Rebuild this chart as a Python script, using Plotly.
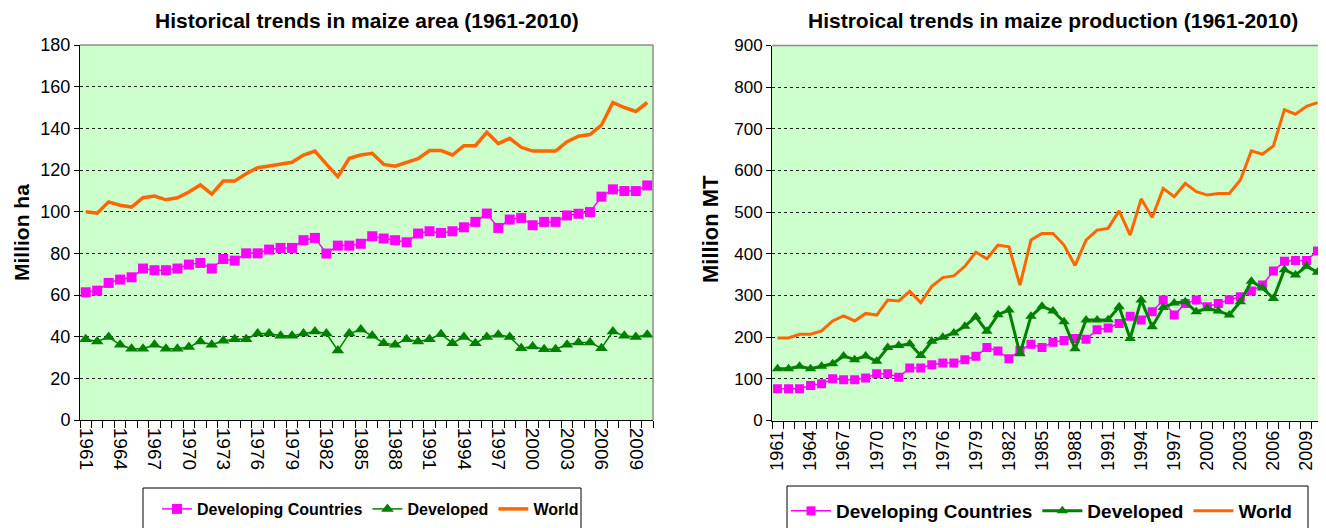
import plotly.graph_objects as go

# ---------------- data ----------------
years = list(range(1961, 2011))

area_developing = [61.3, 62.1, 65.8, 67.4, 68.5, 72.7, 71.9, 71.9, 72.7, 74.6,
                   75.4, 72.7, 77.3, 76.5, 80.0, 80.0, 81.8, 82.6, 82.6, 86.3,
                   87.4, 79.9, 83.7, 83.7, 84.6, 88.2, 87.1, 86.3, 85.3, 89.5,
                   90.6, 89.8, 90.6, 92.5, 95.1, 99.1, 92.2, 96.2, 97.0, 93.5,
                   95.1, 95.1, 98.2, 99.0, 99.8, 107.2, 110.7, 109.9, 109.9, 112.6]
area_developed = [38.8, 37.7, 39.8, 36.1, 34.2, 34.2, 36.1, 34.2, 34.2, 35.0,
                  37.7, 36.1, 38.0, 38.8, 38.8, 41.5, 41.5, 40.4, 40.4, 41.5,
                  42.5, 41.5, 33.4, 41.5, 43.4, 40.4, 36.9, 36.1, 38.8, 37.7,
                  38.8, 41.2, 36.9, 39.8, 36.9, 39.8, 40.9, 39.8, 34.5, 35.3,
                  34.0, 34.0, 36.1, 37.2, 37.2, 34.5, 42.5, 40.4, 39.8, 40.9]
area_world = [100.0, 99.3, 104.7, 103.1, 102.2, 106.7, 107.5, 105.7, 106.7, 109.4,
              112.8, 108.4, 114.7, 114.7, 118.2, 121.1, 121.9, 122.9, 123.7, 127.2,
              129.1, 122.8, 116.8, 125.6, 127.2, 128.0, 122.7, 121.8, 123.5, 125.4,
              129.3, 129.3, 127.2, 131.7, 131.7, 138.1, 132.7, 135.2, 130.9, 129.1,
              129.1, 129.1, 133.6, 136.2, 137.0, 141.5, 152.4, 150.0, 148.1, 152.4]

prod_developing = [76, 76, 76, 84, 88, 100, 98, 98, 102, 112,
                   112, 104, 126, 126, 134, 138, 138, 146, 154, 175,
                   167, 148, 168, 183, 175, 188, 192, 197, 195, 218,
                   222, 233, 250, 241, 261, 289, 253, 281, 289, 273,
                   281, 290, 297, 311, 325, 359, 382, 384, 384, 407]
prod_developed = [124, 124, 130, 124, 130, 136, 155, 146, 155, 142,
                  175, 180, 184, 156, 190, 200, 210, 226, 249, 214,
                  254, 265, 160, 250, 274, 263, 237, 172, 241, 241,
                  242, 273, 197, 289, 225, 271, 282, 285, 261, 269,
                  263, 253, 285, 334, 318, 293, 362, 349, 370, 356]
prod_world = [198, 198, 207, 207, 215, 239, 251, 239, 257, 253,
              289, 287, 310, 283, 322, 343, 347, 370, 404, 388,
              421, 417, 325, 433, 449, 449, 421, 372, 433, 457,
              461, 503, 445, 532, 487, 557, 537, 569, 549, 541,
              545, 545, 577, 647, 639, 659, 746, 735, 754, 763]

tick_years = list(range(1961, 2010, 3))
tick_labels = [str(y) for y in tick_years]
boundaries = [y - 0.5 for y in range(1961, 2012)]

series_names = ["Developing Countries", "Developed", "World"]
title_left = "Historical trends in maize area (1961-2010)"
title_right = "Histroical trends in maize production (1961-2010)"

# ---------------- styles ----------------
FONT = "Liberation Sans, Arial, Helvetica, sans-serif"
MAGENTA = "#FF00FF"
GREEN = "#008000"
ORANGE = "#FF6600"

# The page body has an 8px margin; the figure is sized to fit the window and
# screen positions are converted to paper fractions.
OFF = 8
W, H = 1326 - OFF, 528 - OFF


def px(x):
    return (x - OFF) / W


def py(y):
    return 1 - (y - OFF) / H


fig = go.Figure()

# left chart
fig.add_trace(go.Scatter(x=years, y=area_developing, name=series_names[0], mode="lines+markers",
                         line=dict(color=MAGENTA, width=1.5),
                         marker=dict(symbol="square", size=10, color=MAGENTA),
                         xaxis="x", yaxis="y", legend="legend"))
fig.add_trace(go.Scatter(x=years, y=area_developed, name=series_names[1], mode="lines+markers",
                         line=dict(color=GREEN, width=1.5),
                         marker=dict(symbol="triangle-up", size=11, color=GREEN),
                         xaxis="x", yaxis="y", legend="legend"))
fig.add_trace(go.Scatter(x=years, y=area_world, name=series_names[2], mode="lines",
                         line=dict(color=ORANGE, width=3.5),
                         xaxis="x", yaxis="y", legend="legend"))

# right chart
fig.add_trace(go.Scatter(x=years, y=prod_developing, name=series_names[0], mode="lines+markers",
                         line=dict(color=MAGENTA, width=1.5),
                         marker=dict(symbol="square", size=9, color=MAGENTA),
                         xaxis="x2", yaxis="y2", legend="legend2"))
fig.add_trace(go.Scatter(x=years, y=prod_developed, name=series_names[1], mode="lines+markers",
                         line=dict(color=GREEN, width=3),
                         marker=dict(symbol="triangle-up", size=10, color=GREEN),
                         xaxis="x2", yaxis="y2", legend="legend2"))
fig.add_trace(go.Scatter(x=years, y=prod_world, name=series_names[2], mode="lines",
                         line=dict(color=ORANGE, width=3),
                         xaxis="x2", yaxis="y2", legend="legend2"))


def xaxis_cfg(domain, anchor, angle, fsize, standoff):
    return dict(domain=domain, anchor=anchor, range=[1960.5, 2010.5],
                tickmode="array", tickvals=tick_years, ticktext=tick_labels,
                tickangle=angle, ticks="", ticklabelstandoff=standoff,
                tickfont=dict(size=fsize, color="black"),
                showline=True, linecolor="black", linewidth=1,
                showgrid=False, zeroline=False,
                minor=dict(tickmode="array", tickvals=boundaries, ticks="outside",
                           ticklen=7, tickwidth=1, tickcolor="black", showgrid=False))


def yaxis_cfg(domain, anchor, rng, dtick, fsize):
    return dict(domain=domain, anchor=anchor, range=rng, dtick=dtick,
                tickfont=dict(size=fsize, color="black"),
                ticks="outside", ticklen=5, tickcolor="black", tickwidth=1,
                showline=True, linecolor="black", linewidth=1,
                showgrid=True, gridcolor="#222222", griddash="dot", gridwidth=1,
                zeroline=False)


fig.update_layout(
    width=W, height=H,
    margin=dict(l=0, r=0, t=0, b=0, autoexpand=False),
    paper_bgcolor="white", plot_bgcolor="#CCFFCC",
    font=dict(family=FONT, color="black"),
    xaxis=xaxis_cfg([px(80), px(653)], "y", 90, 19, 3),
    yaxis=yaxis_cfg([py(420), py(45)], "x", [0, 180], 20, 18),
    xaxis2=xaxis_cfg([px(772), px(1323)], "y2", -90, 18, 2),
    yaxis2=yaxis_cfg([py(420.5), py(45.5)], "x2", [0, 900], 100, 17),
    legend=dict(orientation="h", x=px(157), y=py(509), xanchor="left", yanchor="middle",
                borderwidth=0, bgcolor="rgba(0,0,0,0)",
                font=dict(size=16, weight="bold", color="black"), itemwidth=30),
    legend2=dict(orientation="h", x=px(786), y=py(511), xanchor="left", yanchor="middle",
                 borderwidth=0, bgcolor="rgba(0,0,0,0)",
                 font=dict(size=19, weight="bold", color="black"), itemwidth=40),
    showlegend=True,
)

# plot-area top / right borders (gray)
for xr, yr in (("x domain", "y domain"), ("x2 domain", "y2 domain")):
    fig.add_shape(type="line", xref=xr, yref=yr, x0=0, x1=1, y0=1, y1=1,
                  line=dict(color="#8C8C8C", width=1.5), layer="above")
    fig.add_shape(type="line", xref=xr, yref=yr, x0=1, x1=1, y0=0, y1=1,
                  line=dict(color="#8C8C8C", width=1.5), layer="above")

# legend boxes
fig.add_shape(type="rect", xref="paper", yref="paper", x0=px(143), x1=px(581),
              y0=py(540), y1=py(488), line=dict(color="black", width=1), layer="below")
fig.add_shape(type="rect", xref="paper", yref="paper", x0=px(787), x1=px(1308),
              y0=py(540), y1=py(486), line=dict(color="black", width=1), layer="below")

# titles
fig.add_annotation(text=title_left, xref="paper", yref="paper", x=px(367), y=py(20),
                   xanchor="center", yanchor="middle", showarrow=False,
                   font=dict(size=21, weight="bold", color="black"))
fig.add_annotation(text=title_right, xref="paper", yref="paper", x=px(1053), y=py(20),
                   xanchor="center", yanchor="middle", showarrow=False,
                   font=dict(size=21, weight="bold", color="black"))
# axis titles
fig.add_annotation(text="Million ha", xref="paper", yref="paper", x=px(21), y=py(233),
                   xanchor="center", yanchor="middle", textangle=-90, showarrow=False,
                   font=dict(size=21, weight="bold", color="black"))
fig.add_annotation(text="Million MT", xref="paper", yref="paper", x=px(710), y=py(229),
                   xanchor="center", yanchor="middle", textangle=-90, showarrow=False,
                   font=dict(size=22, weight="bold", color="black"))

fig.write_html("out.html")
